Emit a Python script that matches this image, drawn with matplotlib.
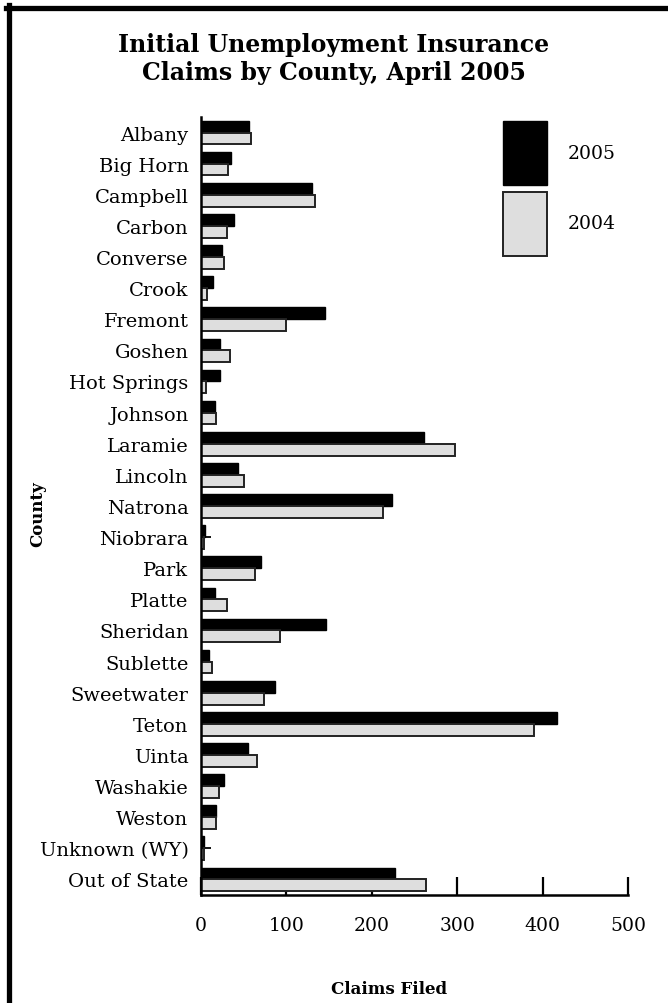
import numpy as np
import matplotlib
matplotlib.use("Agg")
import matplotlib.pyplot as plt
from matplotlib.lines import Line2D

plt.rcParams['font.family'] = ['DejaVu Serif']

counties = ["Albany", "Big Horn", "Campbell", "Carbon", "Converse", "Crook",
            "Fremont", "Goshen", "Hot Springs", "Johnson", "Laramie", "Lincoln",
            "Natrona", "Niobrara", "Park", "Platte", "Sheridan", "Sublette",
            "Sweetwater", "Teton", "Uinta", "Washakie", "Weston",
            "Unknown (WY)", "Out of State"]
claims_2005 = [56, 35, 130, 39, 25, 14, 145, 22, 22, 16, 261, 43, 224, 5,
               70, 16, 146, 9, 87, 417, 55, 27, 17, 4, 227]
claims_2004 = [58, 32, 133, 31, 27, 7, 100, 34, 6, 18, 297, 50, 213, 4,
               63, 30, 92, 13, 74, 390, 66, 21, 17, 3, 263]
xticks = [0, 100, 200, 300, 400, 500]

fig = plt.figure(figsize=(6.68, 10.04), dpi=100)
ax = fig.add_axes([0.3009, 0.1076, 0.6392, 0.7749])

y = np.arange(len(counties))
h = 0.38
ax.barh(y - h / 2, claims_2005, height=h, color="black", edgecolor="black",
        linewidth=1, label="2005", zorder=2)
ax.barh(y + h / 2, claims_2004, height=h, color="#dedede", edgecolor="#222222",
        linewidth=1.4, label="2004", zorder=2)

ax.set_axisbelow(True)
ax.set_ylim(len(counties) - 0.5, -0.5)
ax.set_xlim(0, 500)
ax.set_yticks(y)
ax.set_yticklabels(counties, fontsize=14)
ax.set_xticks(xticks)
ax.set_xticklabels([str(t) for t in xticks], fontsize=13.5)
ax.tick_params(axis="x", direction="in", length=13, width=1.6, pad=15)
ax.tick_params(axis="y", direction="in", length=7, width=1.3, pad=9)

for s in ["top", "right"]:
    ax.spines[s].set_visible(False)
for s in ["left", "bottom"]:
    ax.spines[s].set_linewidth(1.8)

leg = ax.legend(loc="upper left", bbox_to_anchor=(0.753, 0.8785),
                bbox_transform=fig.transFigure, frameon=False, fontsize=13.5,
                borderpad=0, borderaxespad=0, handlelength=2.35,
                handleheight=4.87, handletextpad=1.1, labelspacing=0.37)

fig.text(0.5, 1 - 33 / 1004, "Initial Unemployment Insurance\nClaims by County, April 2005",
         ha="center", va="top", fontsize=17, fontweight="bold", linespacing=1.2)
fig.text(389 / 668, 1 - 990 / 1004, "Claims Filed", ha="center", va="center",
         fontsize=12, fontweight="bold")
fig.text(38 / 668, 1 - 514 / 1004, "County", ha="center", va="center",
         rotation=90, fontsize=12, fontweight="bold")

# page frame on the top and left edges
fig.add_artist(Line2D([6 / 668, 1], [1 - 8.5 / 1004, 1 - 8.5 / 1004],
                      transform=fig.transFigure, color="black", lw=3.8))
fig.add_artist(Line2D([8.5 / 668, 8.5 / 668], [1 - 6 / 1004, 0],
                      transform=fig.transFigure, color="black", lw=3.8))

fig.savefig("out.png", dpi=100)
